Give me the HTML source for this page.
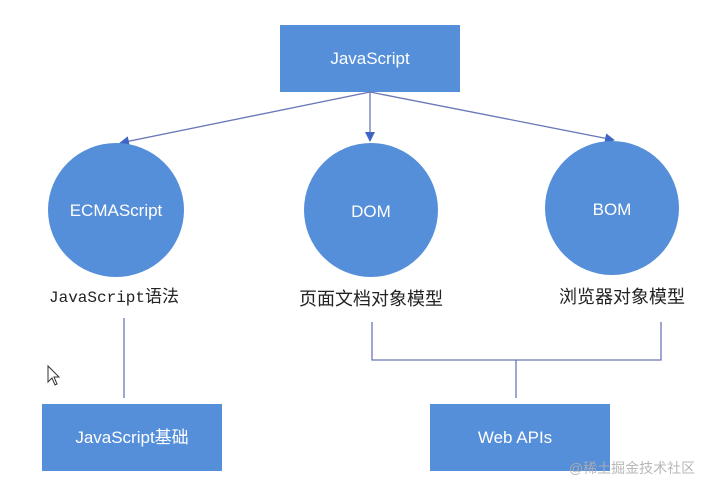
<!DOCTYPE html>
<html><head><meta charset="utf-8"><style>
html,body{margin:0;padding:0;background:#fff;width:702px;height:481px;overflow:hidden}
</style></head><body>
<svg width="702" height="481" xmlns="http://www.w3.org/2000/svg">
<defs><marker id="a" markerWidth="10" markerHeight="10" refX="9" refY="5" orient="auto" markerUnits="userSpaceOnUse"><path d="M0,0 L10,5 L0,10 z" fill="#3f66c4"/></marker></defs>
<rect x="280" y="25" width="180" height="67" fill="#558ed9"/>
<text x="370" y="64" fill="#fff" font-family="Liberation Sans, sans-serif" font-size="17" text-anchor="middle">JavaScript</text>
<g stroke="#6a76b8" stroke-width="1.3" fill="none">
<line x1="370" y1="92" x2="120" y2="143" marker-end="url(#a)"/>
<line x1="370" y1="92" x2="370" y2="141" marker-end="url(#a)"/>
<line x1="370" y1="92" x2="614" y2="140" marker-end="url(#a)"/>
<line x1="124" y1="318" x2="124" y2="398"/>
<polyline points="372,322 372,360 661,360 661,322"/>
<line x1="516" y1="360" x2="516" y2="398"/>
</g>
<ellipse cx="116" cy="210" rx="68" ry="67" fill="#558ed9"/>
<ellipse cx="371" cy="210" rx="67" ry="67" fill="#558ed9"/>
<ellipse cx="612" cy="208" rx="67" ry="67" fill="#558ed9"/>
<g fill="#fff" font-family="Liberation Sans, sans-serif" font-size="17" text-anchor="middle">
<text x="116" y="216">ECMAScript</text>
<text x="371" y="217">DOM</text>
<text x="612" y="215">BOM</text>
</g>
<text x="114" y="302" font-family="Liberation Mono, Noto Sans CJK SC, monospace" font-size="16" text-anchor="middle" fill="#222">JavaScript<tspan font-family="Noto Sans CJK SC, sans-serif" font-size="17">语法</tspan></text>
<text x="371" y="305" font-family="Noto Sans CJK SC, sans-serif" font-size="18" text-anchor="middle" fill="#222">页面文档对象模型</text>
<text x="622" y="303" font-family="Noto Sans CJK SC, sans-serif" font-size="18" text-anchor="middle" fill="#222">浏览器对象模型</text>
<rect x="42" y="404" width="180" height="67" fill="#558ed9"/>
<text x="132" y="443" fill="#fff" font-family="Liberation Sans, Noto Sans CJK SC, sans-serif" font-size="17" text-anchor="middle">JavaScript基础</text>
<rect x="430" y="404" width="180" height="67" fill="#558ed9"/>
<text x="515" y="443" fill="#fff" font-family="Liberation Sans, sans-serif" font-size="17" text-anchor="middle">Web APIs</text>
<path d="M48,366 L48,382 L52,378 L55,385 L57,384 L54,377 L59,377 Z" fill="#fff" stroke="#333" stroke-width="1"/>
<text x="632" y="473" fill="#b0b0b0" font-family="Liberation Sans, Noto Sans CJK SC, sans-serif" font-size="14" text-anchor="middle" opacity="0.9">@稀土掘金技术社区</text>
</svg>
</body></html>
